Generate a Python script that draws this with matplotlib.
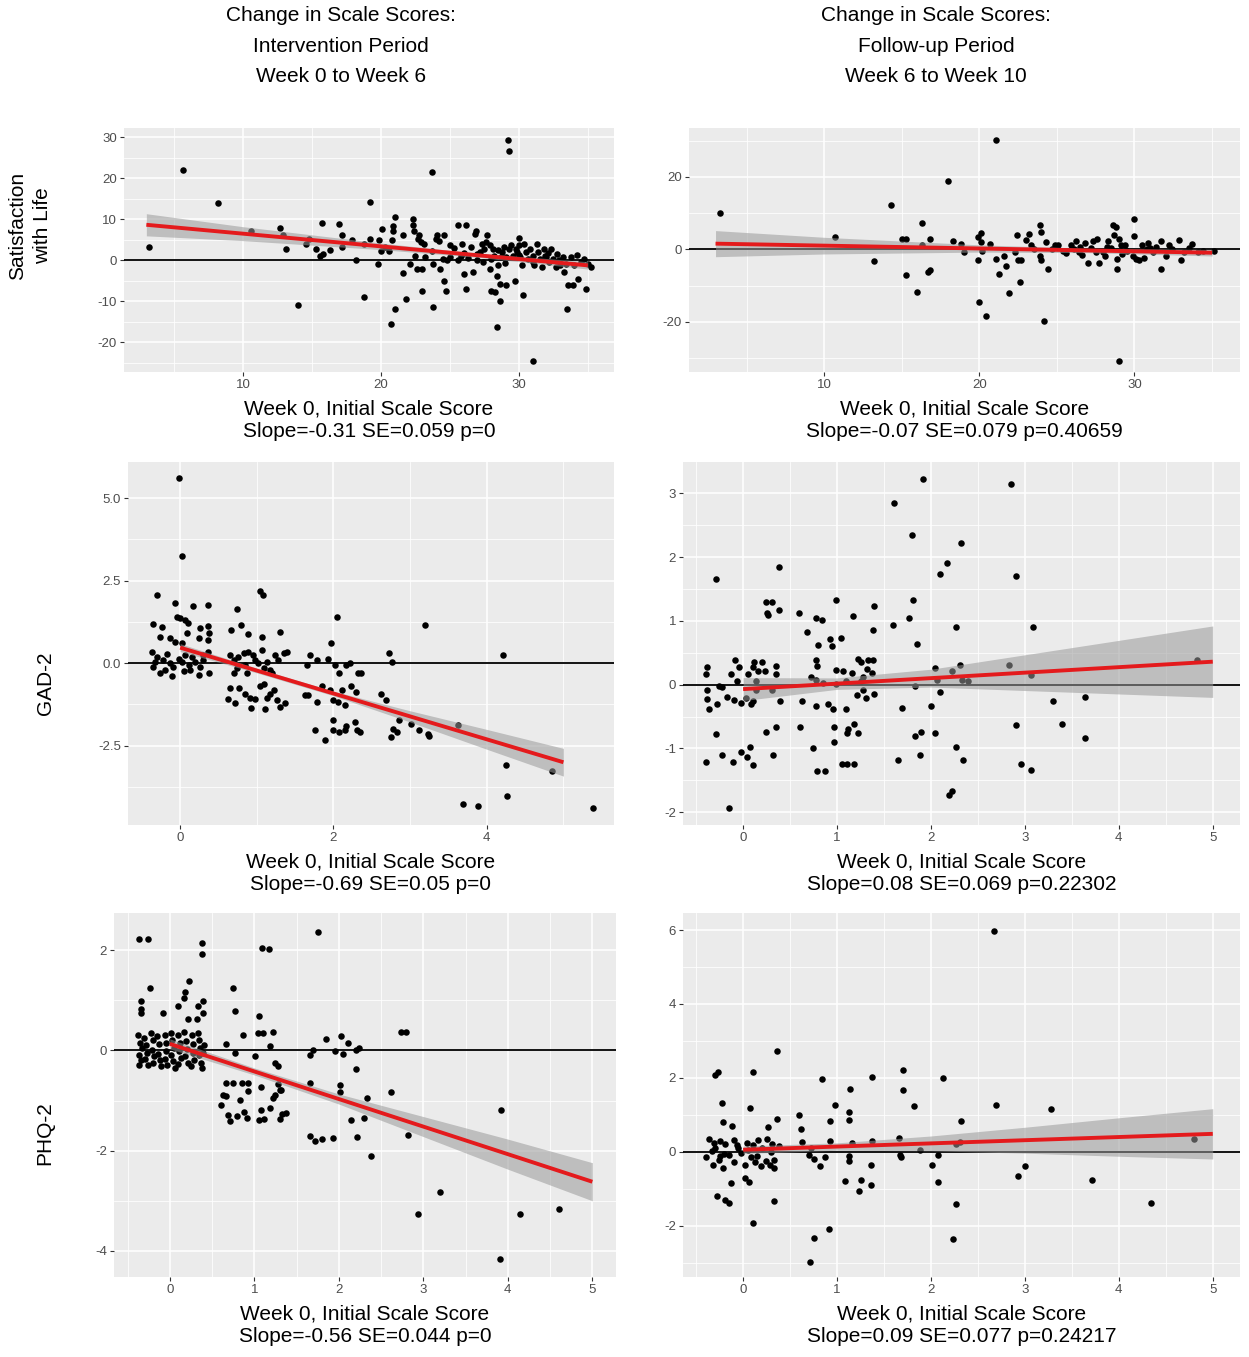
import matplotlib
matplotlib.use("Agg")
import matplotlib.pyplot as plt
import numpy as np

plt.rcParams['font.family'] = ['Liberation Sans', 'DejaVu Sans']
plt.rcParams['axes.unicode_minus'] = False

# ---- Satisfaction with Life, intervention (week 0 -> 6)
swl_int = [(3.2,3.2),(5.65,22.0),(8.2,14.0),(10.6,7.0),(12.7,7.8),(12.9,6.2),(13.1,2.8),(14.0,-10.9),
    (14.8,5.2),(14.6,4.0),(15.3,2.8),(15.7,9.1),(15.6,1.0),(15.8,1.5),(16.3,2.4),(17.0,8.7),(17.2,6.2),
    (17.2,3.2),(17.9,5.0),(18.2,0.0),(18.8,-8.9),(18.8,4.0),(19.2,14.1),(19.2,5.2),(19.8,-0.9),(19.9,4.8),
    (20.0,2.1),(20.1,7.6),(20.3,3.2),(20.6,2.1),(20.7,-15.7),(20.8,4.8),(20.9,7.0),(20.9,8.2),(21.0,10.5),
    (21.0,-12.0),(21.6,-3.1),(21.6,6.2),(21.8,-9.6),(22.1,-0.9),(22.3,10.1),(22.3,8.5),(22.4,7.0),(22.5,1.1),
    (22.6,-2.1),(22.7,5.2),(22.8,6.0),(22.9,4.4),(23.0,-7.6),(23.0,-2.1),(23.1,4.0),(23.2,0.7),(23.7,21.5),
    (23.7,2.1),(23.8,-11.5),(23.8,-0.9),(24.0,5.2),(24.1,6.0),(24.2,4.6),(24.3,-2.3),(24.5,0.3),(24.6,6.2),
    (24.6,-5.1),(24.7,-7.6),(24.8,-0.1),(25.0,3.6),(25.3,2.9),(25.6,-0.1),(25.6,8.5),(25.8,1.1),(25.9,4.0),
    (26.0,-3.3),(26.2,-7.0),(26.2,8.5),(26.3,0.5),(26.5,3.2),(26.7,-2.9),(26.8,6.4),(26.9,7.0),(27.0,-0.1),
    (27.2,2.0),(27.3,4.0),(27.4,-0.5),(27.5,2.6),(27.6,4.4),(27.7,6.0),(27.9,3.6),(27.9,-2.1),(28.0,-7.6),
    (28.1,2.8),(28.2,1.1),(28.3,-7.8),(28.4,-3.9),(28.4,-16.3),(28.5,2.4),(28.5,-1.1),(28.6,-10.1),(28.6,-5.8),
    (28.7,0.7),(28.8,2.0),(28.9,3.2),(29.1,-6.2),(29.1,0.7),(29.2,29.2),(29.3,2.8),(29.3,26.7),(29.4,3.6),
    (29.6,1.1),(29.7,-5.2),(29.8,2.8),(29.9,2.0),(30.0,5.4),(30.0,3.6),(30.1,0.7),(30.2,-1.1),(30.3,-8.5),
    (30.4,4.0),(30.5,2.0),(30.7,0.3),(30.8,2.6),(31.0,-24.7),(31.0,1.0),(31.1,-1.3),(31.3,4.0),(31.4,2.0),
    (31.5,0.3),(31.7,-1.7),(31.8,2.8),(31.9,1.0),(32.1,1.8),(32.2,-0.5),(32.3,2.6),(32.5,0.3),(32.7,-1.7),
    (32.8,1.5),(32.9,-0.1),(33.2,0.7),(33.3,-2.9),(33.4,-0.9),(33.5,-11.9),(33.6,-6.2),(33.8,0.7),(33.9,-6.2),
    (34.0,-1.3),(34.2,1.3),(34.3,-4.6),(34.5,-0.5),(34.7,0.3),(34.9,-7.0),(35.0,-0.9),(35.2,-1.7),
    (27.0,1.5),(28.0,0.3),(29.0,-0.8),(30.0,1.2),(31.0,-0.4),(32.0,0.8),(33.0,-1.2),(26.0,1.8),(25.0,0.8)]
swl_int_fit_x = [3, 35]
swl_int_fit_y = [8.6, -1.3]
swl_int_band_x = [3, 10, 20, 27, 35]
swl_int_band_w = [2.7, 1.7, 0.8, 0.5, 0.9]

# ---- Satisfaction with Life, follow-up (week 6 -> 10)
swl_fu = [(3.3,10.1),(10.7,3.3),(13.2,-3.3),(14.3,12.3),(15.0,2.9),(15.3,2.8),(15.3,-7.0),(16.0,-11.6),
    (16.3,7.3),(16.3,1.1),(16.7,-6.1),(16.8,-5.7),(16.8,2.9),(18.0,19.0),(18.3,2.2),(18.8,1.6),(19.0,-0.6),
    (19.9,-2.8),(19.9,3.4),(20.0,-14.5),(20.1,4.6),(20.1,2.0),(20.2,-0.3),(20.4,-18.3),(20.7,1.6),(21.1,-2.6),
    (21.1,30.1),(21.3,-6.7),(21.6,-1.9),(21.7,-4.6),(21.9,-12.0),(22.3,-0.7),(22.4,4.0),(22.5,-3.0),(22.6,-9.0),
    (22.7,-2.8),(23.0,2.5),(23.2,4.3),(23.3,1.1),(23.5,0.2),(23.9,6.8),(23.9,-1.8),(24.0,-2.8),(24.0,4.8),
    (24.2,-19.8),(24.3,2.0),(24.4,-5.3),(24.7,0.0),(24.9,1.1),(25.1,1.1),(25.4,-0.3),(25.6,-0.9),(25.9,1.1),
    (26.1,0.0),(26.2,2.2),(26.4,-0.7),(26.6,-1.5),(26.8,1.8),(27.0,-3.7),(27.2,0.4),(27.3,2.2),(27.6,2.8),
    (27.7,-3.7),(28.0,-0.7),(28.1,-1.8),(28.3,2.2),(28.5,0.4),(28.6,6.8),(28.7,3.9),(28.8,6.1),(28.9,-2.6),
    (28.9,-5.3),(29.0,-30.8),(29.0,2.9),(29.1,1.1),(29.2,-1.2),(29.4,1.3),(29.9,-1.8),(30.0,8.3),(30.0,3.7),
    (30.1,-2.6),(30.3,-3.0),(30.5,1.1),(30.6,-2.4),(30.8,0.0),(30.9,1.8),(31.2,-0.7),(31.4,0.6),(31.7,-5.5),
    (31.7,2.2),(32.0,-1.8),(32.2,1.1),(32.4,0.0),(32.9,2.5),(33.0,-3.0),(33.2,-0.7),(33.5,0.4),(33.7,1.6),
    (34.1,-0.7),(34.4,-0.3),(35.1,-0.5),(28.2,0.8),(29.5,-0.5),(31.0,0.5),(27.5,-0.6),(26.5,0.6)]
swl_fu_fit_x = [3, 35]
swl_fu_fit_y = [1.6, -0.9]
swl_fu_band_x = [3, 10, 20, 27, 35]
swl_fu_band_w = [3.6, 2.3, 1.0, 0.6, 0.9]

# ---- GAD-2, intervention
gad_int = [(-0.02,5.61),(0.02,3.25),(-0.30,2.06),(-0.07,1.83),(0.17,1.74),(0.37,1.75),(0.74,1.63),
    (1.04,2.19),(1.08,2.06),(-0.35,1.2),(-0.23,1.1),(-0.04,1.41),(0.0,1.36),(0.07,1.31),(0.10,1.22),
    (0.26,1.05),(0.37,1.12),(0.38,0.92),(0.09,0.92),(-0.26,0.8),(-0.13,0.75),(-0.07,0.65),(0.02,0.62),
    (0.24,0.75),(0.36,0.70),(0.79,1.15),(0.66,1.0),(0.88,0.88),(1.07,0.78),(1.30,0.93),(2.05,1.39),
    (1.97,0.62),(3.20,1.15),(-0.37,0.34),(-0.30,0.19),(-0.22,0.09),(-0.17,0.29),(-0.13,0.0),(-0.09,-0.11),
    (-0.02,0.14),(0.02,0.04),(0.07,0.24),(0.11,-0.06),(0.15,0.19),(0.20,0.04),(0.26,-0.11),(0.30,0.09),
    (0.36,0.34),(0.38,-0.31),(0.24,-0.36),(-0.26,-0.31),(-0.11,-0.39),(-0.35,-0.11),(0.13,-0.21),
    (0.65,0.24),(0.70,0.09),(0.76,0.19),(0.83,0.31),(0.89,0.34),(0.74,-0.16),(0.87,-0.31),(0.98,0.09),
    (1.02,-0.01),(1.07,0.39),(1.09,-0.16),(1.13,0.04),(1.17,-0.21),(1.24,0.24),(1.28,0.09),(1.35,0.31),
    (1.39,0.34),(0.65,-0.74),(0.77,-0.74),(0.63,-1.10),(0.72,-1.22),(0.85,-0.92),(0.91,-1.07),(0.93,-1.35),
    (0.98,-1.10),(1.04,-0.70),(1.10,-0.62),(1.13,-1.07),(1.11,-1.38),(1.17,-0.92),(1.22,-0.82),(1.26,-1.12),
    (1.30,-1.33),(1.37,-1.20),(1.65,-0.06),(1.70,0.24),(1.79,0.09),(1.93,0.14),(2.02,-0.06),(2.07,-0.31),
    (2.17,-0.06),(2.22,0.01),(2.32,-0.31),(2.36,-0.31),(1.63,-0.97),(1.67,-0.97),(1.78,-1.18),(1.85,-0.70),
    (1.96,-0.80),(2.0,-1.12),(2.06,-1.17),(2.11,-0.82),(2.15,-1.28),(2.23,-0.70),(2.30,-0.87),(1.76,-2.01),
    (1.89,-2.32),(2.0,-1.73),(1.99,-2.01),(2.07,-2.09),(2.15,-2.01),(2.17,-1.91),(2.28,-1.78),(2.31,-2.01),
    (2.34,-2.09),(2.62,-0.92),(2.68,-1.12),(2.72,0.31),(2.77,0.05),(2.86,-1.71),(2.78,-1.98),(2.75,-2.24),
    (2.83,-2.09),(3.01,-1.85),(3.11,-2.03),(3.24,-2.14),(3.25,-2.22),(3.63,-1.88),(4.21,0.24),(4.25,-3.08),
    (4.26,-4.01),(3.69,-4.26),(3.88,-4.31),(4.85,-3.27),(5.38,-4.39),
    (-0.33,0.05),(-0.2,-0.2),(0.05,-0.25),(0.3,0.25),(0.85,-0.05),(0.95,0.25),(1.2,-0.3),(0.7,-0.3)]
gad_int_fit_x = [0, 5]
gad_int_fit_y = [0.47, -3.0]
gad_int_band_x = [0, 1, 2, 3, 4, 5]
gad_int_band_w = [0.12, 0.07, 0.07, 0.17, 0.3, 0.42]

# ---- GAD-2, follow-up
gad_fu = [(1.92,3.23),(2.85,3.15),(1.61,2.85),(1.80,2.35),(2.32,2.22),(2.17,1.90),(2.10,1.73),(2.91,1.71),
    (0.38,1.84),(-0.29,1.66),(0.24,1.30),(0.31,1.29),(0.25,1.13),(0.27,1.09),(0.38,1.17),(0.60,1.12),
    (0.78,1.04),(0.84,1.01),(0.99,1.32),(1.17,1.08),(1.39,1.23),(1.38,0.85),(1.60,0.94),(1.77,1.04),
    (1.81,1.33),(1.85,0.64),(2.27,0.90),(3.09,0.91),(0.68,0.82),(0.80,0.62),(0.92,0.71),(0.95,0.61),
    (1.04,0.73),(0.78,0.39),(0.79,0.30),(1.22,0.40),(1.25,0.36),(1.33,0.38),(1.38,0.38),(1.32,0.25),
    (1.37,0.18),(0.99,0.23),(1.06,0.21),(1.16,0.19),(0.72,0.12),(0.78,0.07),(0.85,0.02),(0.99,0.01),
    (1.10,0.06),(1.26,0.06),(1.28,0.12),(1.21,-0.16),(1.28,-0.09),(1.31,-0.21),(1.39,-0.14),(-0.40,0.17),
    (-0.38,0.27),(-0.26,-0.02),(-0.23,-0.04),(-0.13,0.17),(-0.09,0.39),(-0.07,0.06),(-0.04,0.27),(0.05,0.17),
    (0.10,0.27),(0.12,0.35),(0.14,0.06),(0.16,0.21),(0.20,0.35),(0.23,0.21),(0.35,0.30),(0.35,0.17),
    (-0.38,-0.09),(-0.38,-0.22),(-0.36,-0.38),(-0.28,-0.30),(-0.17,-0.19),(-0.10,-0.24),(-0.02,-0.29),
    (0.03,-0.21),(0.08,-0.31),(0.11,-0.26),(0.14,-0.09),(0.31,-0.09),(0.39,-0.25),(-0.29,-0.77),(-0.40,-1.22),
    (-0.22,-1.10),(-0.11,-1.22),(-0.02,-1.05),(0.04,-1.14),(0.07,-0.98),(0.10,-1.26),(0.24,-0.75),(0.32,-1.10),
    (0.35,-0.66),(-0.15,-1.93),(0.63,-0.26),(0.61,-0.66),(0.74,-0.99),(0.78,-0.33),(0.79,-1.36),(0.87,-1.36),
    (0.90,-0.31),(0.96,-0.38),(0.97,-0.67),(0.97,-0.90),(1.10,-0.38),(1.05,-1.24),(1.11,-1.24),(1.18,-1.24),
    (1.11,-0.76),(1.18,-0.62),(1.22,-0.76),(1.12,-0.70),(1.65,-1.18),(1.69,-0.36),(1.83,-0.80),(1.89,-0.75),
    (1.88,-1.10),(1.83,-0.02),(2.0,-0.33),(2.04,-0.76),(2.04,0.26),(2.06,0.07),(2.10,-0.11),(2.22,0.21),
    (2.27,-0.97),(2.34,-1.18),(2.31,0.31),(2.33,0.07),(2.39,0.05),(2.19,-1.73),(2.22,-1.66),(2.83,0.31),
    (2.91,-0.63),(2.96,-1.25),(3.06,0.15),(3.06,-1.34),(3.30,-0.25),(3.39,-0.62),(3.64,-0.20),(3.64,-0.83),
    (4.83,0.38)]
gad_fu_fit_x = [0, 5]
gad_fu_fit_y = [-0.07, 0.36]
gad_fu_band_x = [0, 1, 2, 3, 4, 5]
gad_fu_band_w = [0.18, 0.09, 0.14, 0.28, 0.42, 0.56]

# ---- PHQ-2, intervention
phq_int = [(-0.36,2.23),(-0.26,2.23),(0.38,2.15),(0.38,1.93),(1.75,2.37),(1.09,2.05),(1.17,2.03),
    (-0.23,1.25),(0.23,1.39),(0.18,1.16),(0.17,1.05),(0.10,0.88),(-0.34,0.99),(-0.34,0.83),(-0.34,0.74),
    (-0.08,0.74),(0.21,0.63),(0.32,0.63),(0.33,0.89),(0.39,0.98),(0.39,0.74),(0.75,1.24),(0.77,0.78),
    (1.06,0.68),(1.04,0.34),(1.10,0.34),(1.22,0.36),(0.87,0.30),(0.66,0.12),(0.77,-0.05),(1.01,-0.12),
    (1.19,0.08),(1.24,-0.26),(1.28,-0.32),(1.28,-0.68),(1.30,-0.79),(0.66,-0.65),(0.75,-0.65),(0.85,-0.65),
    (0.92,-0.65),(0.93,-0.81),(0.63,-0.89),(0.66,-0.91),(0.61,-1.09),(0.69,-1.29),(0.71,-1.40),(0.80,-1.31),
    (0.83,-0.99),(0.88,-1.23),(0.91,-1.34),(1.08,-0.74),(1.08,-1.19),(1.06,-1.38),(1.12,-1.36),(1.18,-1.14),
    (1.22,-0.94),(1.25,-0.89),(1.32,-0.79),(1.30,-1.36),(1.33,-1.26),(1.37,-1.25),(1.66,-0.10),(1.70,0.01),
    (1.85,0.23),(1.95,-0.01),(2.03,0.28),(2.05,-0.08),(2.11,0.15),(2.20,0.01),(2.24,0.05),(1.66,-0.65),
    (2.02,-0.70),(2.02,-0.83),(2.20,-0.38),(1.66,-1.70),(1.72,-1.81),(1.80,-1.77),(1.93,-1.75),(2.14,-1.39),
    (2.21,-1.72),(2.30,-1.34),(2.33,-0.95),(2.38,-2.10),(2.62,-0.84),(2.74,0.36),(2.79,0.36),(2.82,-1.69),
    (2.94,-3.26),(3.20,-2.83),(3.92,-1.19),(3.91,-4.17),(4.14,-3.26),(4.61,-3.17),
    (-0.38,0.3),(-0.35,0.15),(-0.33,0.05),(-0.36,-0.1),(-0.34,-0.2),(-0.37,-0.3),(-0.3,0.25),(-0.28,0.1),
    (-0.27,-0.05),(-0.29,-0.18),(-0.26,-0.3),(-0.22,0.35),(-0.2,0.2),(-0.21,0.0),(-0.19,-0.12),(-0.2,-0.25),
    (-0.15,0.28),(-0.13,0.12),(-0.14,-0.08),(-0.12,-0.2),(-0.1,-0.32),(-0.06,0.3),(-0.05,0.15),(-0.04,-0.02),
    (-0.06,-0.18),(-0.03,-0.3),(0.02,0.35),(0.03,0.2),(0.05,0.05),(0.02,-0.1),(0.04,-0.22),(0.06,-0.35),
    (0.1,0.3),(0.12,0.15),(0.11,-0.02),(0.13,-0.15),(0.1,-0.28),(0.17,0.36),(0.19,0.18),(0.2,0.02),
    (0.18,-0.12),(0.21,-0.25),(0.26,0.3),(0.28,0.12),(0.27,-0.05),(0.29,-0.2),(0.25,-0.32),(0.33,0.35),
    (0.35,0.2),(0.36,0.05),(0.34,-0.1),(0.37,-0.25),(0.38,-0.35),(0.4,0.1),(0.39,-0.05)]
phq_int_fit_x = [0, 5]
phq_int_fit_y = [0.13, -2.62]
phq_int_band_x = [0, 1, 2, 3, 4, 5]
phq_int_band_w = [0.1, 0.07, 0.1, 0.2, 0.3, 0.38]

# ---- PHQ-2, follow-up
phq_fu = [(2.67,5.97),(0.36,2.73),(-0.30,2.08),(-0.27,2.17),(0.11,2.16),(0.84,1.98),(1.37,2.03),(1.70,2.21),
    (1.70,1.68),(2.13,2.01),(1.14,1.70),(-0.23,1.33),(0.07,1.19),(0.98,1.27),(1.82,1.24),(2.69,1.27),
    (3.28,1.17),(-0.21,0.81),(-0.12,0.71),(0.27,0.68),(0.36,0.90),(0.60,1.01),(0.62,0.62),(0.93,0.83),
    (1.13,1.09),(1.13,0.87),(2.32,0.85),(-0.36,0.35),(-0.31,0.24),(-0.25,0.31),(-0.19,0.22),(-0.10,0.33),
    (-0.06,0.20),(0.04,0.24),(0.10,0.20),(0.16,0.33),(0.25,0.35),(0.31,0.22),(0.38,0.15),(0.63,0.26),
    (0.72,0.11),(0.93,0.29),(1.16,0.23),(1.37,0.29),(1.66,0.38),(1.88,0.04),(2.27,0.22),(2.31,0.26),
    (4.80,0.35),(-0.39,-0.14),(-0.33,0.02),(-0.32,-0.34),(-0.26,-0.21),(-0.21,-0.42),(-0.15,-0.09),
    (-0.10,-0.27),(-0.02,-0.03),(0.02,-0.34),(0.08,-0.14),(0.13,-0.27),(0.19,-0.39),(0.24,-0.24),(0.29,-0.34),
    (0.33,-0.21),(0.33,-0.42),(0.70,-0.07),(0.75,-0.18),(0.82,-0.39),(0.87,-0.14),(1.13,-0.12),(1.13,-0.25),
    (1.36,-0.36),(1.67,-0.07),(1.68,-0.14),(2.01,-0.34),(2.08,-0.07),(3.0,-0.39),(2.93,-0.64),(-0.13,-0.84),
    (0.02,-0.71),(0.06,-0.80),(1.09,-0.78),(1.25,-0.77),(1.23,-1.05),(1.36,-0.90),(2.08,-0.81),(3.71,-0.75),
    (-0.28,-1.18),(-0.19,-1.29),(-0.15,-1.38),(0.33,-1.32),(2.27,-1.41),(4.34,-1.39),(0.10,-1.91),
    (0.91,-2.09),(0.75,-2.33),(0.71,-2.97),(2.23,-2.36),
    (-0.3,0.1),(-0.2,-0.05),(-0.05,0.1),(0.05,0.05),(0.15,-0.1),(0.2,0.1),(0.3,0.0),(-0.25,-0.1)]
phq_fu_fit_x = [0, 5]
phq_fu_fit_y = [0.06, 0.49]
phq_fu_band_x = [0, 1, 2, 3, 4, 5]
phq_fu_band_w = [0.1, 0.1, 0.2, 0.35, 0.52, 0.68]

col_titles = ["Change in Scale Scores:\nIntervention Period\nWeek 0 to Week 6",
              "Change in Scale Scores:\nFollow-up Period\nWeek 6 to Week 10"]
row_labels = ["Satisfaction\nwith Life", "GAD-2", "PHQ-2"]
slope_texts = ["Slope=-0.31 SE=0.059 p=0", "Slope=-0.07 SE=0.079 p=0.40659",
               "Slope=-0.69 SE=0.05 p=0", "Slope=0.08 SE=0.069 p=0.22302",
               "Slope=-0.56 SE=0.044 p=0", "Slope=0.09 SE=0.077 p=0.24217"]

W, H = 1249, 1357
fig = plt.figure(figsize=(W / 100, H / 100), dpi=100)
fig.patch.set_facecolor('white')


def px_axes(l, t, r, b):
    return fig.add_axes([l / W, 1 - b / H, (r - l) / W, (b - t) / H])


panels = [
    dict(box=(124, 128, 614, 372), pts=swl_int, fx=swl_int_fit_x, fy=swl_int_fit_y,
         bx=swl_int_band_x, bw=swl_int_band_w, xlim=(1.38, 36.9), ylim=(-27.3, 32.2),
         xt=[10, 20, 30], xm=[5, 15, 25, 35], yt=[-20, -10, 0, 10, 20, 30], ym=[-25, -15, -5, 5, 15, 25],
         xf="%d", yf="%d"),
    dict(box=(689, 128, 1240, 372), pts=swl_fu, fx=swl_fu_fit_x, fy=swl_fu_fit_y,
         bx=swl_fu_band_x, bw=swl_fu_band_w, xlim=(1.29, 36.8), ylim=(-33.8, 33.5),
         xt=[10, 20, 30], xm=[5, 15, 25, 35], yt=[-20, 0, 20], ym=[-30, -10, 10, 30], xf="%d", yf="%d"),
    dict(box=(128, 462, 614, 825), pts=gad_int, fx=gad_int_fit_x, fy=gad_int_fit_y,
         bx=gad_int_band_x, bw=gad_int_band_w, xlim=(-0.68, 5.66), ylim=(-4.9, 6.09),
         xt=[0, 2, 4], xm=[1, 3, 5], yt=[-2.5, 0, 2.5, 5.0], ym=[-3.75, -1.25, 1.25, 3.75],
         xf="%d", yf="%.1f"),
    dict(box=(683, 462, 1240, 825), pts=gad_fu, fx=gad_fu_fit_x, fy=gad_fu_fit_y,
         bx=gad_fu_band_x, bw=gad_fu_band_w, xlim=(-0.64, 5.29), ylim=(-2.2, 3.49),
         xt=[0, 1, 2, 3, 4, 5], xm=[-0.5, 0.5, 1.5, 2.5, 3.5, 4.5], yt=[-2, -1, 0, 1, 2, 3],
         ym=[-1.5, -0.5, 0.5, 1.5, 2.5], xf="%d", yf="%d"),
    dict(box=(114, 913, 616, 1277), pts=phq_int, fx=phq_int_fit_x, fy=phq_int_fit_y,
         bx=phq_int_band_x, bw=phq_int_band_w, xlim=(-0.66, 5.28), ylim=(-4.52, 2.74),
         xt=[0, 1, 2, 3, 4, 5], xm=[-0.5, 0.5, 1.5, 2.5, 3.5, 4.5], yt=[-4, -2, 0, 2],
         ym=[-3, -1, 1], xf="%d", yf="%d"),
    dict(box=(683, 913, 1240, 1277), pts=phq_fu, fx=phq_fu_fit_x, fy=phq_fu_fit_y,
         bx=phq_fu_band_x, bw=phq_fu_band_w, xlim=(-0.64, 5.29), ylim=(-3.38, 6.46),
         xt=[0, 1, 2, 3, 4, 5], xm=[-0.5, 0.5, 1.5, 2.5, 3.5, 4.5], yt=[-2, 0, 2, 4, 6],
         ym=[-3, -1, 1, 3, 5], xf="%d", yf="%d"),
]

for i, p in enumerate(panels):
    ax = px_axes(*p['box'])
    ax.set_facecolor('#EBEBEB')
    for s in ax.spines.values():
        s.set_visible(False)
    ax.set_xlim(*p['xlim'])
    ax.set_ylim(*p['ylim'])
    ax.set_xticks(p['xt'])
    ax.set_yticks(p['yt'])
    ax.set_xticks(p['xm'], minor=True)
    ax.set_yticks(p['ym'], minor=True)
    ax.set_xticklabels([p['xf'] % v for v in p['xt']])
    ax.set_yticklabels([p['yf'] % v for v in p['yt']])
    ax.grid(True, which='major', color='white', lw=1.1)
    ax.grid(True, which='minor', color='white', lw=0.55)
    ax.set_axisbelow(True)
    ax.tick_params(which='major', length=3, color='#333333', labelcolor='#4D4D4D', labelsize=9.5, pad=2)
    ax.tick_params(which='minor', length=0)

    xs = np.array([q[0] for q in p['pts']])
    ys = np.array([q[1] for q in p['pts']])
    ax.axhline(0, color='black', lw=1.3, zorder=2)
    ax.scatter(xs, ys, s=22, color='black', zorder=3, linewidths=0)

    bx = np.array(p['bx'], float)
    fit = np.interp(bx, p['fx'], p['fy'])
    bw = np.array(p['bw'])
    ax.fill_between(bx, fit - bw, fit + bw, color='#999999', alpha=0.55, lw=0, zorder=4)
    ax.plot(p['fx'], p['fy'], color='#E41A1C', lw=2.8, zorder=5, solid_capstyle='butt')

    cx = (p['box'][0] + p['box'][2]) / 2
    fig.text(cx / W, 1 - (p['box'][3] + 48) / H, "Week 0, Initial Scale Score\n" + slope_texts[i],
             ha='center', va='center', fontsize=15, linespacing=1.25)

for j, t in enumerate(col_titles):
    cx = [341, 936][j]
    fig.text(cx / W, 1 - 46 / H, t, ha='center', va='center', fontsize=15, linespacing=1.75)

fig.text(30 / W, 1 - 226 / H, row_labels[0], ha='center', va='center', rotation=90, fontsize=15, linespacing=1.4)
fig.text(45 / W, 1 - 683 / H, row_labels[1], ha='center', va='center', rotation=90, fontsize=15)
fig.text(45 / W, 1 - 1133 / H, row_labels[2], ha='center', va='center', rotation=90, fontsize=15)

fig.savefig("out.png", dpi=100)
